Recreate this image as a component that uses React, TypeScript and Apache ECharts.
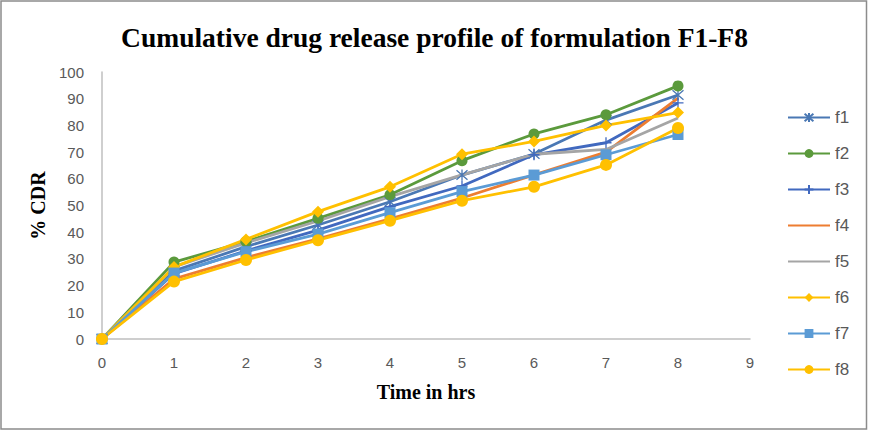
import { useEffect, useRef } from 'react';
import * as echarts from 'echarts';

// sampling times (hours) and % CDR for each formulation
const hours = [0, 1, 2, 3, 4, 5, 6, 7, 8];
const f1 = [0, 25.5, 34.6, 42.7, 51.4, 61.4, 69.3, 82, 91.4];
const f2 = [0, 28.8, 36.5, 45.2, 54, 66.8, 76.8, 84, 94.8];
const f3 = [0, 24.5, 33, 40.8, 49.6, 57.3, 69, 73.5, 88.4];
const f4 = [0, 22.5, 30.5, 37.5, 45, 52.8, 61.5, 70, 90.2];
const f5 = [0, 27, 36, 44.2, 53.3, 61.5, 69.2, 71, 82.8];
const f6 = [0, 27, 37.3, 47.7, 57, 69.2, 74, 80, 84.8];
const f7 = [0, 24.7, 32.7, 39.3, 47.3, 55.2, 61.4, 69, 76.6];
const f8 = [0, 21.5, 29.6, 37, 44.3, 51.8, 57, 65.2, 79];
const seriesNames = ['f1', 'f2', 'f3', 'f4', 'f5', 'f6', 'f7', 'f8'];

const STAR = 'path://M5,0L5,10M0.7,0.7L9.3,9.3M9.3,0.7L0.7,9.3';
const PLUS = 'path://M5,0L5,10M0,5L10,5';

// marker: null = plain line (legend shows the line only)
const styles = [
  { color: '#4a78b4', symbol: STAR, size: 11 },
  { color: '#5b9a3c', symbol: 'circle', size: 11 },
  { color: '#4169bf', symbol: PLUS, size: 11 },
  { color: '#ed7d31', symbol: null, size: 0 },
  { color: '#a5a5a5', symbol: null, size: 0 },
  { color: '#ffc000', symbol: 'diamond', size: 12 },
  { color: '#5b9bd5', symbol: 'rect', size: 11 },
  { color: '#ffc000', symbol: 'circle', size: 12 },
];

export default function App() {
  const chartRef = useRef<HTMLDivElement>(null);

  useEffect(() => {
    document.body.style.margin = '0';
    if (!chartRef.current) return;
    const chart = echarts.init(chartRef.current, undefined, { renderer: 'svg' });
    const all = [f1, f2, f3, f4, f5, f6, f7, f8];
    const tickFont = { color: '#595959', fontSize: 15, fontFamily: 'Liberation Sans' };
    const nameFont = { fontFamily: 'Liberation Serif', fontWeight: 'bold', fontSize: 20, color: '#000' };

    chart.setOption({
      animation: false,
      backgroundColor: '#fff',
      title: {
        text: 'Cumulative drug release profile of formulation F1-F8',
        left: 'center',
        top: 18,
        textStyle: { fontFamily: 'Liberation Serif', fontWeight: 'bold', fontSize: 27.5, color: '#000' },
      },
      graphic: [
        {
          type: 'rect',
          shape: { x: 1, y: 1, width: 865.5, height: 428 },
          style: { fill: 'none', stroke: '#8c8c8c', lineWidth: 1.5 },
          silent: true,
        },
      ],
      legend: {
        orient: 'vertical',
        left: 782,
        top: 104,
        itemWidth: 42,
        itemHeight: 11,
        itemGap: 19,
        data: seriesNames,
        textStyle: { color: '#595959', fontSize: 17, fontFamily: 'Liberation Sans' },
      },
      grid: { left: 102, right: 119, top: 72, bottom: 92 },
      xAxis: {
        type: 'value',
        min: 0,
        max: 9,
        interval: 1,
        name: 'Time in hrs',
        nameLocation: 'middle',
        nameGap: 43,
        nameTextStyle: nameFont,
        axisLine: { lineStyle: { color: '#bfbfbf', width: 1.5 } },
        axisTick: { show: false },
        splitLine: { show: false },
        axisLabel: { ...tickFont, margin: 16 },
      },
      yAxis: {
        type: 'value',
        min: 0,
        max: 100,
        interval: 10,
        name: '% CDR',
        nameLocation: 'middle',
        nameGap: 54,
        nameTextStyle: nameFont,
        axisLine: { show: true, lineStyle: { color: '#bfbfbf', width: 1.5 } },
        axisTick: { show: false },
        splitLine: { show: false },
        axisLabel: { ...tickFont, margin: 18 },
      },
      series: seriesNames.map((name, i) => {
        const s = styles[i];
        const plain = s.symbol === null;
        return {
          name,
          type: 'line',
          data: hours.map((h, j) => [h, all[i][j]]),
          symbol: plain ? 'circle' : s.symbol,
          symbolSize: s.size,
          showSymbol: !plain,
          lineStyle: { color: s.color, width: 2.8 },
          itemStyle: {
            color: plain ? 'transparent' : s.color,
            borderColor: plain ? 'transparent' : s.color,
            borderWidth: i === 0 || i === 2 ? 1.3 : 0,
          },
        };
      }),
    });

    const handleResize = () => chart.resize();
    window.addEventListener('resize', handleResize);
    return () => {
      window.removeEventListener('resize', handleResize);
      chart.dispose();
    };
  }, []);

  return <div ref={chartRef} style={{ width: 869, height: 431 }} />;
}
